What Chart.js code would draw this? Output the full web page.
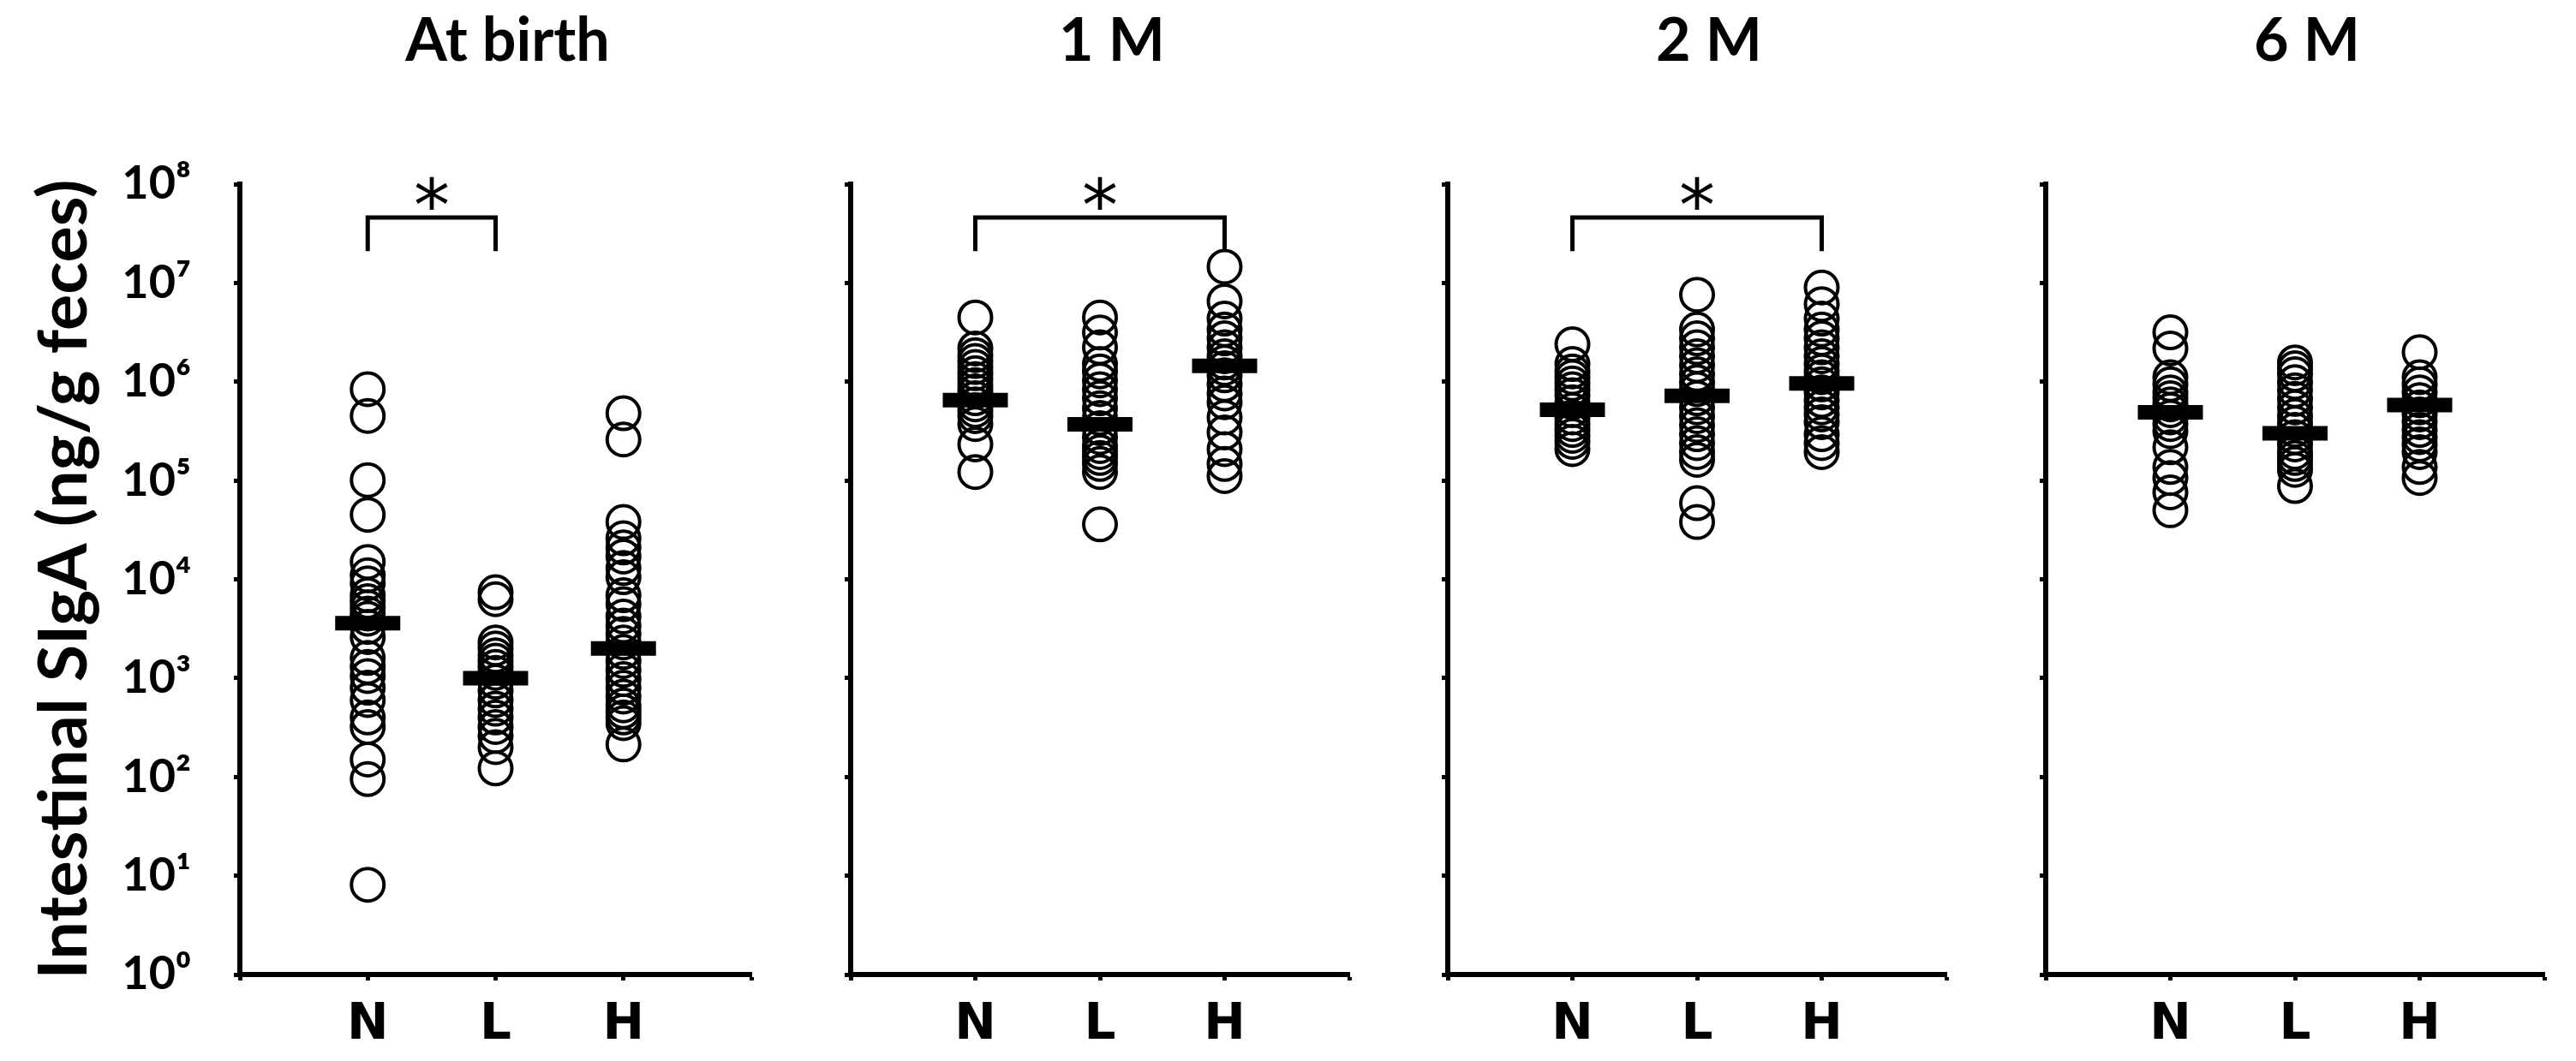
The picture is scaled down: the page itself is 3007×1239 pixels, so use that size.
<!DOCTYPE html>
<html>
<head>
<meta charset="utf-8">
<script src="https://cdn.jsdelivr.net/npm/chart.js@4.4.1/dist/chart.umd.min.js"></script>
<style>
    html, body { margin: 0; padding: 0; background: #fff; }
    #wrap { position: relative; width: 3007px; height: 1239px; overflow: hidden; }
    #wrap canvas { position: absolute; top: 0; }
</style>
</head>
<body>
<div id="wrap"></div>
<script>
// --- Data ---
const groups = ['N', 'L', 'H'];
const panelTitles = ['At birth', '1 M', '2 M', '6 M'];
const yTitle = 'Intestinal SIgA (ng/g feces)';
const tickValues = [1, 10, 100, 1e3, 1e4, 1e5, 1e6, 1e7, 1e8];
const tickLabels = ['10⁰', '10¹', '10²', '10³', '10⁴', '10⁵', '10⁶', '10⁷', '10⁸'];

// At birth
const birthN = [840000, 450000, 101000, 45000, 15000, 11000, 9100, 6900, 6000, 5200, 4500, 4000, 3300, 2600, 1600, 1300, 1050, 800, 600, 400, 320, 150, 95, 8.1];
const birthL = [7400, 6300, 2300, 2000, 1700, 1500, 1300, 1130, 920, 750, 600, 490, 400, 320, 260, 200, 122];
const birthH = [480000, 260000, 38000, 26000, 21000, 17000, 13000, 10500, 6900, 5600, 4200, 3400, 2800, 2300, 1840, 1490, 1210, 980, 800, 650, 530, 460, 400, 350, 213];
const birthMean = [3600, 1000, 2000];

// 1 month
const m1N = [4.47e6, 2.17e6, 1.86e6, 1.62e6, 1.41e6, 1.22e6, 1.06e6, 9.25e5, 8.0e5, 6.8e5, 5.9e5, 5.15e5, 4.48e5, 3.73e5, 2.32e5, 1.22e5];
const m1L = [4.47e6, 3.15e6, 2.23e6, 1.51e6, 1.27e6, 1.03e6, 8.4e5, 6.8e5, 5.4e5, 4.3e5, 3.39e5, 2.75e5, 2.23e5, 1.94e5, 1.69e5, 1.47e5, 1.22e5, 3.6e4];
const m1H = [1.46e7, 6.5e6, 4.35e6, 3.38e6, 2.75e6, 2.23e6, 1.81e6, 1.57e6, 1.37e6, 1.16e6, 9.4e5, 7.6e5, 6.2e5, 4.35e5, 3.07e5, 2.08e5, 1.47e5, 1.11e5];
const m1Mean = [6.5e5, 3.7e5, 1.45e6];

// 2 months
const m2N = [2.39e6, 1.51e6, 1.27e6, 1.11e6, 9.6e5, 8.4e5, 7.3e5, 6.2e5, 5.15e5, 4.35e5, 3.73e5, 3.25e5, 2.83e5, 2.46e5, 2.08e5];
const m2L = [7.6e6, 3.38e6, 2.75e6, 2.23e6, 1.81e6, 1.47e6, 1.19e6, 9.9e5, 8.4e5, 6.8e5, 5.5e5, 4.48e5, 3.63e5, 2.94e5, 2.39e5, 1.94e5, 1.62e5, 5.9e4, 3.8e4];
const m2H = [8.98e6, 6.1e6, 4.35e6, 3.38e6, 2.75e6, 2.23e6, 1.81e6, 1.51e6, 1.27e6, 1.11e6, 9.4e5, 7.8e5, 6.5e5, 5.5e5, 4.67e5, 3.9e5, 2.94e5, 2.39e5, 1.94e5];
const m2Mean = [5.2e5, 7.2e5, 9.6e5];

// 6 months
const m6N = [3.16e6, 2.17e6, 1.11e6, 9.4e5, 7.8e5, 6.8e5, 5.9e5, 5.15e5, 4.35e5, 3.73e5, 3.16e5, 2.17e5, 1.37e5, 1.06e5, 7.6e4, 5.0e4];
const m6L = [1.57e6, 1.37e6, 1.19e6, 9.9e5, 8.2e5, 6.7e5, 5.5e5, 4.5e5, 3.8e5, 3.25e5, 2.75e5, 2.32e5, 1.94e5, 1.69e5, 1.47e5, 1.28e5, 8.8e4];
const m6H = [1.99e6, 1.11e6, 9.4e5, 7.8e5, 6.5e5, 5.5e5, 4.67e5, 3.9e5, 3.25e5, 2.75e5, 2.32e5, 1.94e5, 1.37e5, 1.06e5];
const m6Mean = [4.9e5, 3.0e5, 5.8e5];

// significance brackets (group positions, 1-based), null = none
const sigPairs = [[1, 2], [1, 3], [1, 3], null];
const bracketTop = 4.6e7;
const bracketFoot = 2.1e7;

const panelValues = [
    [birthN, birthL, birthH],
    [m1N, m1L, m1H],
    [m2N, m2L, m2H],
    [m6N, m6L, m6H]
];
const panelMeans = [birthMean, m1Mean, m2Mean, m6Mean];

// --- Layout ---
const H = 1239;
const plotTop = 215;
const plotBottom = 1138;
const plotLeft = [280, 978, 1675, 2373];
const plotWidth = 612;
const sidePad = 40;

const black = '#000';
Chart.defaults.color = black;
Chart.defaults.font.family = 'Lato, "DejaVu Sans", sans-serif';

// titles and asterisks
const decorPlugin = {
    id: 'panelDecor',
    afterDraw(chart, args, opts) {
        const { ctx, chartArea, scales } = chart;
        ctx.save();
        ctx.fillStyle = black;
        ctx.font = 'bold 70px Lato';
        ctx.textAlign = 'center';
        ctx.textBaseline = 'alphabetic';
        ctx.fillText(opts.title, (chartArea.left + chartArea.right) / 2 + 14, 71);

        if (opts.pair) {
            const x = (scales.x.getPixelForValue(opts.pair[0]) + scales.x.getPixelForValue(opts.pair[1])) / 2;
            const y = scales.y.getPixelForValue(bracketTop) - 28;
            ctx.font = '84px "DejaVu Sans"';
            const m = ctx.measureText('*');
            ctx.fillText('*', x, y + (m.actualBoundingBoxAscent - m.actualBoundingBoxDescent) / 2);
        }
        ctx.restore();
    }
};

const wrap = document.getElementById('wrap');

panelTitles.forEach((title, p) => {
    const first = p === 0;
    const axisW = first ? plotLeft[0] : sidePad;
    const left = plotLeft[p] - axisW;
    const width = axisW + plotWidth + sidePad;

    const canvas = document.createElement('canvas');
    canvas.width = width;
    canvas.height = H;
    canvas.style.left = left + 'px';
    canvas.style.width = width + 'px';
    canvas.style.height = H + 'px';
    wrap.appendChild(canvas);

    const datasets = [];

    // mean bars on top
    datasets.push({
        data: panelMeans[p].map((v, i) => ({ x: i + 1, y: v })),
        pointStyle: 'line',
        pointRadius: 38,
        pointBorderWidth: 17,
        pointBorderColor: black,
        pointBackgroundColor: black,
        showLine: false,
        order: 0
    });

    panelValues[p].forEach((vals, g) => {
        datasets.push({
            data: vals.map(v => ({ x: g + 1, y: v })),
            pointStyle: 'circle',
            pointRadius: 19,
            pointBorderWidth: 4,
            pointBorderColor: black,
            pointBackgroundColor: 'rgba(0,0,0,0)',
            showLine: false,
            order: 1
        });
    });

    const pair = sigPairs[p];
    if (pair) {
        datasets.push({
            type: 'line',
            data: [
                { x: pair[0], y: bracketFoot },
                { x: pair[0], y: bracketTop },
                { x: pair[1], y: bracketTop },
                { x: pair[1], y: bracketFoot }
            ],
            borderColor: black,
            borderWidth: 5,
            borderJoinStyle: 'miter',
            pointRadius: 0,
            fill: false,
            tension: 0,
            order: 2
        });
    }

    new Chart(canvas, {
        type: 'scatter',
        data: { datasets },
        options: {
            responsive: false,
            animation: false,
            events: [],
            layout: { padding: { top: plotTop, right: sidePad, left: 0, bottom: 0 } },
            plugins: {
                legend: { display: false },
                tooltip: { enabled: false },
                panelDecor: { title, pair }
            },
            scales: {
                x: {
                    type: 'linear',
                    min: 0,
                    max: 4,
                    afterBuildTicks: s => { s.ticks = [0, 1, 2, 3, 4].map(v => ({ value: v })); },
                    afterFit: s => { s.height = H - plotBottom; },
                    grid: { drawOnChartArea: false, drawTicks: true, tickLength: 7, tickWidth: 5, tickColor: black },
                    border: { display: true, width: 6, color: black },
                    ticks: {
                        padding: 18,
                        maxRotation: 0,
                        autoSkip: false,
                        font: { family: '"DejaVu Sans", sans-serif', size: 58, weight: 'bold' },
                        callback: v => groups[v - 1] || ''
                    }
                },
                y: {
                    type: 'logarithmic',
                    min: 1,
                    max: 1e8,
                    afterBuildTicks: s => { s.ticks = tickValues.map(v => ({ value: v })); },
                    afterFit: s => { s.width = axisW; },
                    grid: { drawOnChartArea: false, drawTicks: true, tickLength: 7, tickWidth: 5, tickColor: black },
                    border: { display: true, width: 6, color: black },
                    ticks: {
                        display: true,
                        padding: first ? 50 : 0,
                        autoSkip: false,
                        font: { family: 'Lato, "DejaVu Sans", sans-serif', size: 54, weight: 'bold' },
                        callback: v => first ? tickLabels[tickValues.indexOf(v)] : ''
                    },
                    title: {
                        display: first,
                        text: yTitle,
                        font: { family: 'Lato, sans-serif', size: 79, weight: 'bold' },
                        padding: { top: 28, bottom: 0 }
                    }
                }
            }
        },
        plugins: [decorPlugin]
    });
});
</script>
</body>
</html>
